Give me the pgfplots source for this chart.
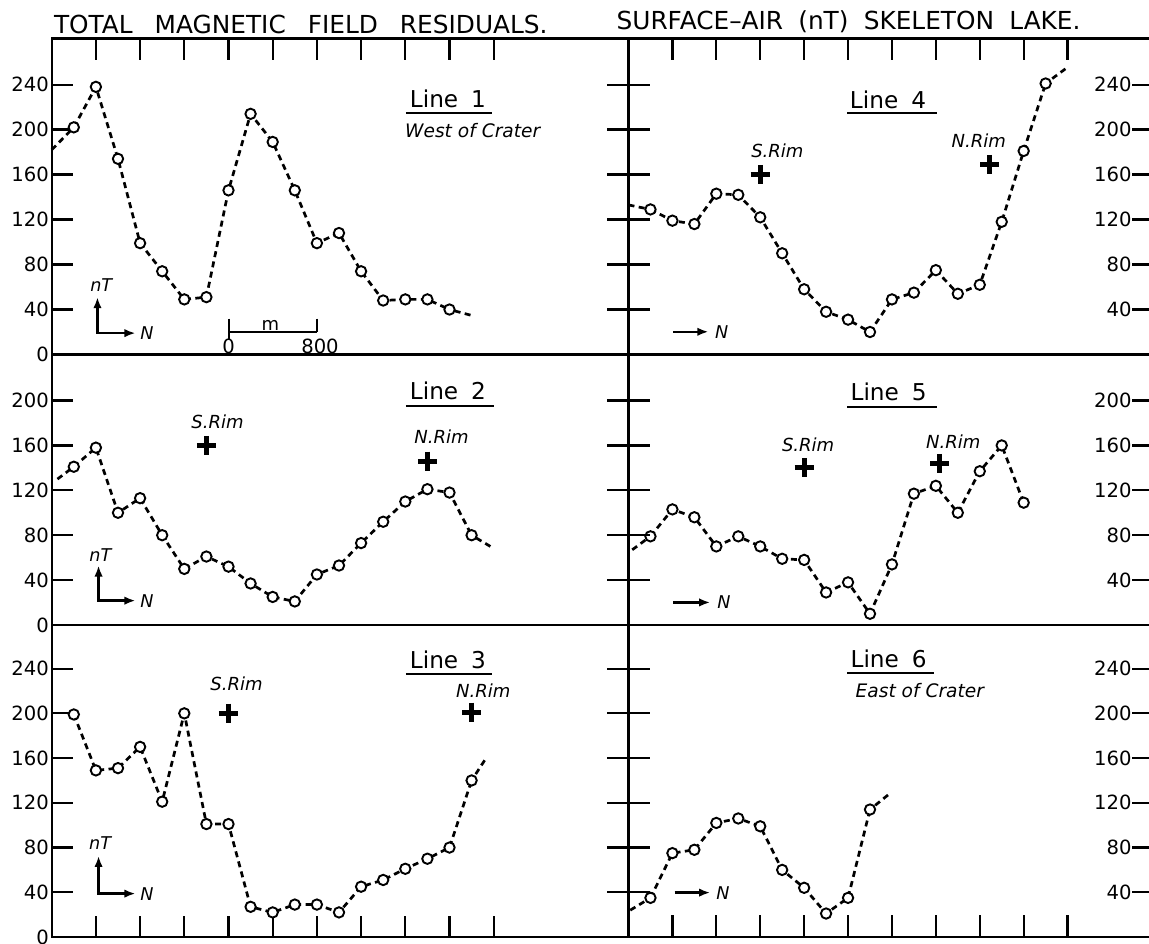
\documentclass[border=0pt]{standalone}
\usepackage{pgfplots}
\pgfplotsset{compat=1.18}
\usepackage{fontspec}
\setmainfont{DejaVu Sans}
\usetikzlibrary{arrows.meta}

\pgfplotsset{
  base/.style={
    scale only axis, clip=false, xmin=0,
    axis line style={line width=1.15pt},
    every tick/.style={black, line width=1.1pt},
    /pgf/number format/assume math mode=true,
    tick label style={font=\fontsize{9.8}{10}\selectfont},
    xticklabels={},
  },
  L/.style={base, width=288.4pt, xmax=26.1, at={(25.85pt,#1)}, anchor=south west,
    ytick pos=left, tick align=inside, major tick length=10.7pt,
    yticklabel style={inner sep=1.2pt}},
  R/.style={base, width=265.75pt, xmax=24.21, at={(314.25pt,#1)}, anchor=south west,
    tick align=inside, major tick length=11pt, ytick=\empty},
  RC/.style={R=#1, xtick=\empty, ytick pos=left, yticklabels={}, ytick align=center, major tick length=21.5pt},
  RL/.style={R=#1, xtick=\empty, ytick pos=right, yticklabel pos=right, major tick length=14pt,
    yticklabel style={anchor=east, xshift=-14pt, inner sep=0pt}},
  toprow/.style={height=158pt, ymin=0, ymax=281},
  midrow/.style={height=135.25pt, ymin=0, ymax=241},
  botrow/.style={height=156pt, ymin=0, ymax=279},
  ln/.style={black, line width=1.35pt, dash pattern=on 3pt off 2.2pt},
  dat/.style={ln, mark=*, mark size=2.6pt, mark options={solid, fill=white, draw=black, line width=0.95pt}},
  rim/.style={only marks, mark=+, mark size=4.8pt, mark options={line width=2.5pt}},
}
\tikzset{
  ttl/.style={font=\fontsize{11.6}{12}\selectfont},
  itl/.style={font=\fontsize{9}{10}\selectfont\itshape},
  itn/.style={font=\fontsize{8.8}{10}\selectfont\itshape},
  ul/.style={line width=1pt},
  ar/.style={line width=1.25pt},
}

\begin{document}
\begin{tikzpicture}
\useasboundingbox (0,0) rectangle (574.5pt,471.5pt);
\clip (0,0) rectangle (574.5pt,471.5pt);
\node[anchor=base west, font=\fontsize{12.4}{14}\selectfont, inner sep=0pt] at (26.8pt,454.8pt) {TOTAL\hspace{11pt}MAGNETIC\hspace{11pt}FIELD\hspace{11pt}RESIDUALS.};
\node[anchor=base west, font=\fontsize{12.4}{14}\selectfont, inner sep=0pt] at (308.1pt,456.5pt) {SURFACE–AIR\hspace{7.6pt}(nT)\hspace{7.6pt}SKELETON\hspace{7.6pt}LAKE.};

% ---------------- Line 1
\begin{axis}[L=294.25pt, toprow, xtick pos=right, xtick={2,4,...,20}, ytick={0,40,...,240}]
\addplot[ln] coordinates {(0,182) (1,202)};
\addplot[ln] coordinates {(18.95,35) (18,40)};
\addplot[dat] coordinates {(1,202) (2,238) (3,174) (4,99) (5,74) (6,49) (7,51) (8,146) (9,214) (10,189) (11,146) (12,99) (13,108) (14,74) (15,48) (16,49) (17,49) (18,40)};
\node[ttl] at (axis cs:17.93,227) {Line\hspace{6.5pt}1};
\draw[ul] (axis cs:16.03,214.6) -- (axis cs:19.91,214.6);
\node[font=\fontsize{9.3}{10}\selectfont\itshape] at (axis cs:19.05,199) {West of Crater};
\draw[ar, {Latex[length=5.5pt,width=4.2pt]}-{Latex[length=5.5pt,width=4.2pt]}] (axis cs:2.07,51) |- (axis cs:3.79,19);
\node[itn] at (axis cs:2.24,62) {nT};
\node[itn] at (axis cs:4.31,18.6) {N};
\draw[ul] (axis cs:8,19.7) -- (axis cs:12,19.7) (axis cs:8,32) -- (axis cs:8,14) (axis cs:12,32) -- (axis cs:12,19.7);
\node[font=\fontsize{9}{9}\selectfont] at (axis cs:9.9,26.2) {m};
\node[font=\fontsize{9.8}{10}\selectfont] at (axis cs:8,7.6) {0};
\node[font=\fontsize{9.8}{10}\selectfont] at (axis cs:12.14,7.6) {800};
\end{axis}

% ---------------- Line 2
\begin{axis}[L=159pt, midrow, xtick=\empty, ytick={0,40,...,200}]
\addplot[ln] coordinates {(0.26,130) (1,141)};
\addplot[ln] coordinates {(19.85,70) (19,80)};
\addplot[dat] coordinates {(1,141) (2,158) (3,100) (4,113) (5,80) (6,50) (7,61) (8,52) (9,37) (10,25) (11,21) (12,45) (13,53) (14,73) (15,92) (16,110) (17,121) (18,118) (19,80)};
\addplot[rim] coordinates {(7,160) (17,146)};
\node[ttl] at (axis cs:17.93,209) {Line\hspace{6.5pt}2};
\draw[ul] (axis cs:16.03,195.5) -- (axis cs:20.03,195.5);
\node[itl] at (axis cs:7.5,180.7) {S.Rim};
\node[itl] at (axis cs:17.64,168.2) {N.Rim};
\draw[ar, {Latex[length=5.5pt,width=4.2pt]}-{Latex[length=5.5pt,width=4.2pt]}] (axis cs:2.12,53) |- (axis cs:3.79,21.7);
\node[itn] at (axis cs:2.2,62) {nT};
\node[itn] at (axis cs:4.31,21.7) {N};
\end{axis}

% ---------------- Line 3
\begin{axis}[L=3pt, botrow, xtick pos=left, xtick={2,4,...,20}, ytick={0,40,...,240}]
\addplot[ln] coordinates {(19.59,158) (19,140)};
\addplot[dat] coordinates {(1,199) (2,149) (3,151) (4,170) (5,121) (6,200) (7,101) (8,101) (9,27) (10,22) (11,29) (12,29) (13,22) (14,45) (15,51) (16,61) (17,70) (18,80) (19,140)};
\addplot[rim] coordinates {(8,200) (19,201)};
\node[ttl] at (axis cs:17.93,247.5) {Line\hspace{6.5pt}3};
\draw[ul] (axis cs:16.03,235.5) -- (axis cs:19.91,235.5);
\node[itl] at (axis cs:8.36,226) {S.Rim};
\node[itl] at (axis cs:19.53,220.6) {N.Rim};
\draw[ar, {Latex[length=5.5pt,width=4.2pt]}-{Latex[length=5.5pt,width=4.2pt]}] (axis cs:2.12,72.5) |- (axis cs:3.79,38.8);
\node[itn] at (axis cs:2.19,84.4) {nT};
\node[itn] at (axis cs:4.31,38.8) {N};
\end{axis}

% ---------------- Line 4
\begin{axis}[R=294.25pt, toprow, xtick pos=right, xtick={2,4,...,20}]
\addplot[ln] coordinates {(0,133) (1,129)};
\addplot[ln] coordinates {(19.9,254) (19,241)};
\addplot[dat] coordinates {(1,129) (2,119) (3,116) (4,143) (5,142) (6,122) (7,90) (8,58) (9,38) (10,31) (11,20) (12,49) (13,55) (14,75) (15,54) (16,62) (17,118) (18,181) (19,241)};
\addplot[rim] coordinates {(6,160) (16.45,169)};
\node[ttl] at (axis cs:11.82,226.7) {Line\hspace{6.5pt}4};
\draw[ul] (axis cs:9.97,214.9) -- (axis cs:14.05,214.9);
\node[itl] at (axis cs:6.78,181) {S.Rim};
\node[itl] at (axis cs:15.95,190) {N.Rim};
\draw[ar, -{Latex[length=5.5pt,width=4.2pt]}] (axis cs:2.03,20.2) -- (axis cs:3.64,20.2);
\node[itn] at (axis cs:4.25,20.2) {N};
\end{axis}
\begin{axis}[RC=294.25pt, toprow, ytick={40,80,...,240}]\end{axis}
\begin{axis}[RL=294.25pt, toprow, ytick={40,80,...,240}]\end{axis}

% ---------------- Line 5
\begin{axis}[R=159pt, midrow, xtick=\empty]
\addplot[ln] coordinates {(0.17,67) (1,79)};
\addplot[dat] coordinates {(1,79) (2,103) (3,96) (4,70) (5,79) (6,70) (7,59) (8,58) (9,29) (10,38) (11,10) (12,54) (13,117) (14,124) (15,100) (16,137) (17,160) (18,109)};
\addplot[rim] coordinates {(8,140) (14.18,144)};
\node[ttl] at (axis cs:11.85,208) {Line\hspace{6.5pt}5};
\draw[ul] (axis cs:9.97,194) -- (axis cs:14.05,194);
\node[itl] at (axis cs:8.18,160.6) {S.Rim};
\node[itl] at (axis cs:14.79,163) {N.Rim};
\draw[ar, -{Latex[length=5.5pt,width=4.2pt]}] (axis cs:2.03,20.1) -- (axis cs:3.72,20.1);
\node[itn] at (axis cs:4.35,20.1) {N};
\end{axis}
\begin{axis}[RC=159pt, midrow, ytick={40,80,...,200}]\end{axis}
\begin{axis}[RL=159pt, midrow, ytick={40,80,...,200}]\end{axis}

% ---------------- Line 6
\begin{axis}[R=3pt, botrow, xtick pos=left, xtick={2,4,...,20}]
\addplot[ln] coordinates {(0.08,24) (1,35)};
\addplot[ln] coordinates {(11.82,127) (11,114)};
\addplot[dat] coordinates {(1,35) (2,75) (3,78) (4,102) (5,106) (6,99) (7,60) (8,44) (9,21) (10,35) (11,114)};
\node[ttl] at (axis cs:11.85,248.9) {Line\hspace{6.5pt}6};
\draw[ul] (axis cs:9.97,236.1) -- (axis cs:13.93,236.1);
\node[font=\fontsize{9.3}{10}\selectfont\itshape] at (axis cs:13.27,220) {East of Crater};
\draw[ar, -{Latex[length=5.5pt,width=4.2pt]}] (axis cs:2.1,39.7) -- (axis cs:3.72,39.7);
\node[itn] at (axis cs:4.3,39.7) {N};
\end{axis}
\begin{axis}[RC=3pt, botrow, ytick={40,80,...,240}]\end{axis}
\begin{axis}[RL=3pt, botrow, ytick={40,80,...,240}]\end{axis}
\end{tikzpicture}
\end{document}
